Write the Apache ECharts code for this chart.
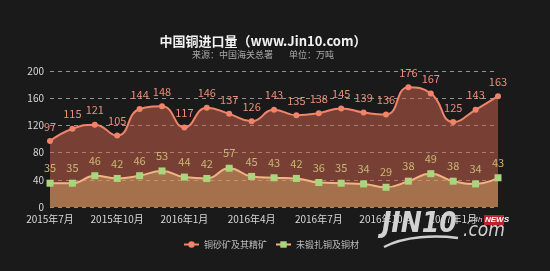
<!DOCTYPE html>
<html><head><meta charset="utf-8">
<script src="https://cdn.jsdelivr.net/npm/echarts@6/dist/echarts.min.js"></script>
<style>html,body{margin:0;padding:0;background:#1b1a1b;}#c{width:550px;height:271px;}</style>
</head><body><div id="c"></div>
<script>
const months = ['2015年7月','2015年8月','2015年9月','2015年10月','2015年11月','2015年12月','2016年1月','2016年2月','2016年3月','2016年4月','2016年5月','2016年6月','2016年7月','2016年8月','2016年9月','2016年10月','2016年11月','2016年12月','2017年1月','2017年2月','2017年3月'];
const ore = [97,115,121,105,144,148,117,146,137,126,143,135,138,145,139,136,176,167,125,143,163];
const copper = [35,35,46,42,46,53,44,42,57,45,43,42,36,35,34,29,38,49,38,34,43];
const yTicks = [0,40,80,120,160,200];

const chart = echarts.init(document.getElementById('c'), null, {renderer:'canvas'});
const font = '"Microsoft YaHei","Noto Sans CJK SC",sans-serif';
chart.setOption({
  backgroundColor:'#1b1a1b',
  animation:false,
  textStyle:{fontFamily:font},
  title:{
    text:'中国铜进口量（www.Jin10.com）',
    subtext:'来源：中国海关总署        单位：万吨',
    left:258, top:30, textAlign:'center', itemGap:2,
    textStyle:{color:'#f2f2f2', fontSize:13, fontWeight:'bold', fontFamily:font},
    subtextStyle:{color:'#a8a8a8', fontSize:9, fontFamily:font}
  },
  legend:{
    data:['铜砂矿及其精矿','未锻扎铜及铜材'],
    left:178, top:235, itemWidth:15, itemHeight:8, itemGap:8,
    textStyle:{color:'#bdbdbd', fontSize:9, fontFamily:font}
  },
  grid:{left:50, right:52, top:71, bottom:64},
  xAxis:{
    type:'category', data:months, boundaryGap:false,
    axisLine:{show:false}, axisTick:{show:false},
    axisLabel:{color:'#d8d8d8', fontSize:10, interval:2, margin:7, fontFamily:font}
  },
  yAxis:{
    type:'value', min:yTicks[0], max:yTicks[yTicks.length-1], interval:40,
    axisLine:{show:false}, axisTick:{show:false},
    axisLabel:{color:'#d8d8d8', fontSize:10, margin:6},
    splitLine:{lineStyle:{color:'rgba(225,225,225,0.6)', type:[4,4], width:1}}
  },
  series:[
    {
      name:'铜砂矿及其精矿', type:'line', data:ore, smooth:true,
      symbol:'circle', symbolSize:6,
      itemStyle:{color:'#f0846a'},
      lineStyle:{color:'#f0846a', width:2},
      areaStyle:{color:'rgba(206,100,78,0.74)'},
      label:{show:true, position:'top', color:'#e8907a', fontSize:11, distance:6}
    },
    {
      name:'未锻扎铜及铜材', type:'line', data:copper, smooth:true,
      symbol:'rect', symbolSize:7,
      itemStyle:{color:'#a9d67c'},
      lineStyle:{color:'#f2b484', width:2},
      areaStyle:{color:'rgba(222,176,106,0.62)'},
      label:{show:true, position:'top', color:'#c9b873', fontSize:11, distance:6}
    }
  ],
  graphic:[
    {type:'text', left:382, top:211, z:100, style:{text:'JIN10', fill:'#d2d2d2', font:'italic bold 28px "Liberation Sans Narrow","DejaVu Sans Condensed",sans-serif'}},
    {type:'text', left:463, top:222, z:100, style:{text:'.com', fill:'#d2d2d2', font:'italic 19px "Liberation Sans Narrow","DejaVu Sans Condensed",sans-serif'}},
    {type:'text', left:469, top:216, z:100, style:{text:'24h', fill:'#cfcfcf', font:'italic 8px sans-serif'}},
    {type:'rect', left:484, top:215, z:100, shape:{width:20, height:10}, style:{fill:'#b8242a'}},
    {type:'text', left:485, top:216, z:101, style:{text:'NEWS', fill:'#ffffff', font:'italic bold 8px sans-serif'}},
    {type:'bezierCurve', z:100, shape:{x1:384, y1:247, x2:458, y2:238, cpx1:405, cpy1:236, cpx2:435, cpy2:235}, style:{stroke:'#cfcfcf', lineWidth:2.5, fill:null}}
  ]
});
</script>
</body></html>
